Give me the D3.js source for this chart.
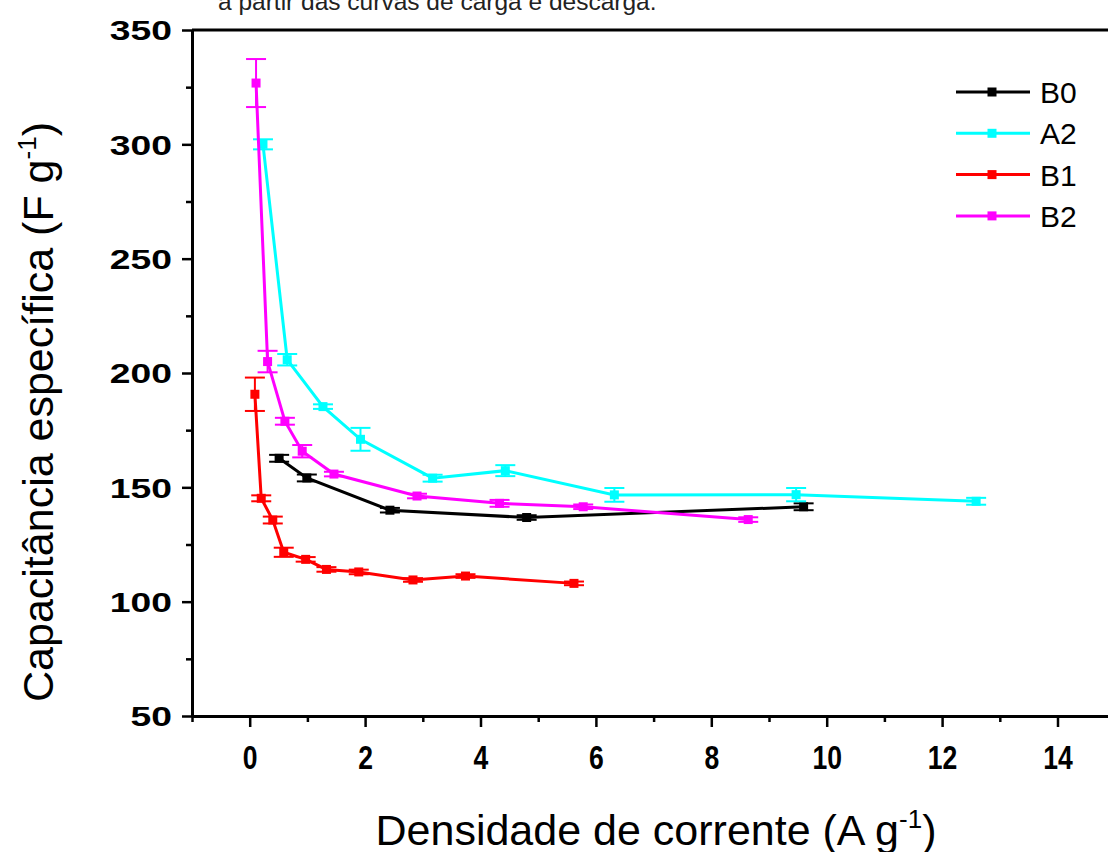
<!DOCTYPE html>
<html>
<head>
<meta charset="utf-8">
<script src="https://cdn.jsdelivr.net/npm/d3@7"></script>
<style>
    body { margin: 0; background: #fff; }
    svg { display: block; font-family: Arial, "Liberation Sans", sans-serif; }
    .axis path, .axis line { stroke: #000; }
</style>
</head>
<body>
<div id="chart"></div>
<script>
// Series data (current density in A/g, specific capacitance in F/g, error)
const seriesNames = ["B0", "A2", "B1", "B2"];
const seriesColors = ["#000000", "#00ffff", "#ff0000", "#ff00ff"];

const b0X = [0.51, 0.99, 2.43, 4.80, 9.60];
const b0Y = [162.7, 154.1, 140.0, 136.8, 141.5];
const b0Err = [1.5, 1.5, 1.0, 1.0, 1.5];

const a2X = [0.23, 0.65, 1.27, 1.92, 3.17, 4.43, 6.32, 9.47, 12.59];
const a2Y = [300.0, 205.8, 185.3, 171.0, 154.0, 157.3, 146.7, 146.8, 143.9];
const a2Err = [2.2, 2.5, 1.0, 5.0, 1.5, 2.4, 3.0, 2.9, 1.5];

const b1X = [0.09, 0.20, 0.40, 0.59, 0.97, 1.33, 1.89, 2.83, 3.74, 5.62];
const b1Y = [190.7, 145.2, 135.7, 121.6, 118.5, 114.1, 113.0, 109.5, 111.2, 108.0];
const b1Err = [7.3, 1.3, 1.5, 2.0, 1.0, 1.0, 1.0, 0.8, 0.8, 0.8];

const b2X = [0.11, 0.31, 0.61, 0.91, 1.46, 2.90, 4.33, 5.78, 8.64];
const b2Y = [326.8, 205.0, 178.9, 165.8, 155.8, 146.2, 143.0, 141.5, 135.9];
const b2Err = [10.5, 4.7, 1.5, 2.7, 1.0, 1.0, 1.5, 1.0, 1.0];

const xMajorTicks = [0, 2, 4, 6, 8, 10, 12, 14];
const xMinorTicks = [-1, 1, 3, 5, 7, 9, 11, 13, 15];
const yMajorTicks = [50, 100, 150, 200, 250, 300, 350];
const yMinorTicks = [75, 125, 175, 225, 275, 325];

const captionText = "a partir das curvas de carga e descarga.";
const xTitle = "Densidade de corrente (A g";
const yTitle = "Capacitância específica (F g";

const allX = [b0X, a2X, b1X, b2X];
const allY = [b0Y, a2Y, b1Y, b2Y];
const allErr = [b0Err, a2Err, b1Err, b2Err];

class LineChart {
    constructor(_config) {
        this.config = {
            parentElement: _config.parentElement,
            containerWidth: 1108,
            containerHeight: 852,
            margin: { top: 30, left: 192 },
            markerSize: 9,
            capWidth: 20
        };
        this.initVis();
    }

    initVis() {
        let vis = this;

        vis.svg = d3.select(vis.config.parentElement).append("svg")
            .attr("width", vis.config.containerWidth)
            .attr("height", vis.config.containerHeight);

        // scales (x axis runs past the right edge of the picture)
        vis.xScale = d3.scaleLinear().domain([-1, 15]).range([192, 192 + 16 * 57.7]);
        vis.yScale = d3.scaleLinear().domain([50, 350]).range([716, 30]);

        // build series table
        vis.series = seriesNames.map((name, i) => ({
            name: name,
            color: seriesColors[i],
            points: allX[i].map((x, j) => ({ x: x, y: allY[i][j], err: allErr[i][j] }))
        }));

        vis.renderVis();
    }

    renderVis() {
        let vis = this;
        const x0 = vis.xScale.range()[0];
        const y0 = vis.yScale.range()[0];

        // caption cut off at the top
        vis.svg.append("text")
            .attr("x", 218)
            .attr("y", 10)
            .attr("font-size", 24.5)
            .attr("fill", "#222")
            .text(captionText);

        // top frame line
        vis.svg.append("line")
            .attr("x1", x0).attr("x2", vis.xScale.range()[1])
            .attr("y1", vis.yScale(350)).attr("y2", vis.yScale(350))
            .attr("stroke", "#000").attr("stroke-width", 3);

        // minor ticks
        vis.svg.append("g")
            .attr("class", "axis")
            .attr("transform", `translate(0,${y0})`)
            .call(d3.axisBottom(vis.xScale).tickValues(xMinorTicks).tickSize(6).tickFormat(""))
            .call(g => g.select(".domain").remove())
            .selectAll("line").attr("stroke-width", 2.5);

        vis.svg.append("g")
            .attr("class", "axis")
            .attr("transform", `translate(${x0},0)`)
            .call(d3.axisLeft(vis.yScale).tickValues(yMinorTicks).tickSize(6).tickFormat(""))
            .call(g => g.select(".domain").remove())
            .selectAll("line").attr("stroke-width", 2.5);

        // x axis
        let xAxisG = vis.svg.append("g")
            .attr("class", "axis x-axis")
            .attr("transform", `translate(0,${y0})`)
            .call(d3.axisBottom(vis.xScale).tickValues(xMajorTicks).tickSize(11).tickSizeOuter(0));
        xAxisG.select(".domain").attr("stroke-width", 3);
        xAxisG.selectAll("line").attr("stroke-width", 2.5);
        xAxisG.selectAll("text")
            .attr("y", 0).attr("dy", null)
            .attr("transform", "translate(0,53) scale(0.78,1)")
            .attr("font-size", 34)
            .attr("font-weight", "bold")
            .attr("fill", "#000");

        // y axis
        let yAxisG = vis.svg.append("g")
            .attr("class", "axis y-axis")
            .attr("transform", `translate(${x0},0)`)
            .call(d3.axisLeft(vis.yScale).tickValues(yMajorTicks).tickSize(10).tickSizeOuter(0));
        yAxisG.select(".domain").attr("stroke-width", 3);
        yAxisG.selectAll("line").attr("stroke-width", 2.5);
        yAxisG.selectAll("text")
            .attr("x", 0).attr("dy", "0.36em")
            .attr("transform", "translate(-20,0) scale(1.38,1)")
            .attr("font-size", 27)
            .attr("font-weight", "bold")
            .attr("fill", "#000");

        // axis titles
        let xt = vis.svg.append("text")
            .attr("x", 656)
            .attr("y", 845)
            .attr("text-anchor", "middle")
            .attr("font-size", 43)
            .attr("fill", "#000");
        xt.append("tspan").text(xTitle);
        xt.append("tspan").attr("font-size", 26).attr("dy", -17).text("-1");
        xt.append("tspan").attr("dy", 17).text(")");

        let yt = vis.svg.append("text")
            .attr("transform", "translate(53,412) rotate(-90)")
            .attr("text-anchor", "middle")
            .attr("font-size", 43)
            .attr("fill", "#000");
        yt.append("tspan").text(yTitle);
        yt.append("tspan").attr("font-size", 26).attr("dy", -17).text("-1");
        yt.append("tspan").attr("dy", 17).text(")");

        // series
        const line = d3.line()
            .x(d => vis.xScale(d.x))
            .y(d => vis.yScale(d.y));

        const cw = vis.config.capWidth / 2;
        const ms = vis.config.markerSize;

        let groups = vis.svg.selectAll(".series")
            .data(vis.series)
            .join("g")
            .attr("class", "series");

        groups.append("path")
            .attr("d", d => line(d.points))
            .attr("fill", "none")
            .attr("stroke", d => d.color)
            .attr("stroke-width", 3);

        groups.each(function(s) {
            let g = d3.select(this);
            let eb = g.selectAll(".err")
                .data(s.points)
                .join("g")
                .attr("class", "err")
                .attr("stroke", s.color)
                .attr("stroke-width", 2);
            eb.append("line")
                .attr("x1", d => vis.xScale(d.x)).attr("x2", d => vis.xScale(d.x))
                .attr("y1", d => vis.yScale(d.y - d.err)).attr("y2", d => vis.yScale(d.y + d.err));
            eb.append("line")
                .attr("x1", d => vis.xScale(d.x) - cw).attr("x2", d => vis.xScale(d.x) + cw)
                .attr("y1", d => vis.yScale(d.y + d.err)).attr("y2", d => vis.yScale(d.y + d.err));
            eb.append("line")
                .attr("x1", d => vis.xScale(d.x) - cw).attr("x2", d => vis.xScale(d.x) + cw)
                .attr("y1", d => vis.yScale(d.y - d.err)).attr("y2", d => vis.yScale(d.y - d.err));

            g.selectAll(".marker")
                .data(s.points)
                .join("rect")
                .attr("class", "marker")
                .attr("x", d => vis.xScale(d.x) - ms / 2)
                .attr("y", d => vis.yScale(d.y) - ms / 2)
                .attr("width", ms)
                .attr("height", ms)
                .attr("fill", s.color);
        });

        // legend
        let legend = vis.svg.selectAll(".legend-item")
            .data(vis.series)
            .join("g")
            .attr("class", "legend-item")
            .attr("transform", (d, i) => `translate(956,${92 + i * 41.3})`);
        legend.append("line")
            .attr("x1", 0).attr("x2", 74)
            .attr("stroke", d => d.color)
            .attr("stroke-width", 3);
        legend.append("rect")
            .attr("x", 36 - ms / 2).attr("y", -ms / 2)
            .attr("width", ms).attr("height", ms)
            .attr("fill", d => d.color);
        legend.append("text")
            .attr("x", 84)
            .attr("y", 11)
            .attr("font-size", 30)
            .attr("fill", "#000")
            .text(d => d.name);
    }
}

new LineChart({ parentElement: "#chart" });
</script>
</body>
</html>
